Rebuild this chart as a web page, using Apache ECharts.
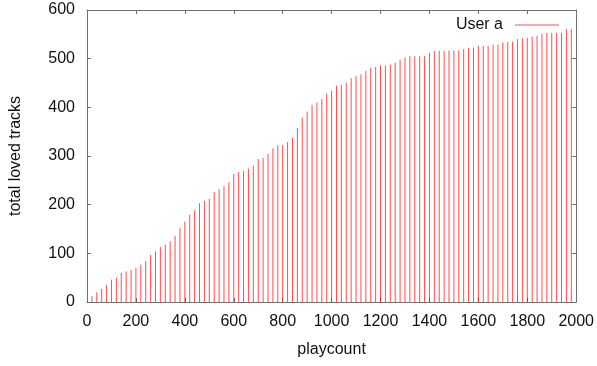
<!DOCTYPE html>
<html>
<head>
<meta charset="utf-8">
<script src="https://cdn.jsdelivr.net/npm/echarts@6/dist/echarts.min.js"></script>
<style>
  html, body { margin: 0; padding: 0; background: #fff; }
  #chart { width: 597px; height: 366px; }
</style>
</head>
<body>
<div id="chart"></div>
<script>
// Playcount at which each snapshot was taken
const playcount = [
  20, 40, 60, 80, 100, 120, 140, 160, 180, 200,
  220, 240, 260, 280, 300, 320, 340, 360, 380, 400,
  420, 440, 460, 480, 500, 520, 540, 560, 580, 600,
  620, 640, 660, 680, 700, 720, 740, 760, 780, 800,
  820, 840, 860, 880, 900, 920, 940, 960, 980, 1000,
  1020, 1040, 1060, 1080, 1100, 1120, 1140, 1160, 1180, 1200,
  1220, 1240, 1260, 1280, 1300, 1320, 1340, 1360, 1380, 1400,
  1420, 1440, 1460, 1480, 1500, 1520, 1540, 1560, 1580, 1600,
  1620, 1640, 1660, 1680, 1700, 1720, 1740, 1760, 1780, 1800,
  1820, 1840, 1860, 1880, 1900, 1920, 1940, 1960, 1980
];

// Total loved tracks for "User a" at each playcount
const lovedUserA = [
  12, 20, 27, 35, 46, 50, 60, 63, 66, 70,
  77, 84, 97, 104, 113, 118, 125, 136, 152, 165,
  179, 189, 203, 208, 212, 226, 232, 238, 246, 263,
  267, 269, 274, 280, 294, 296, 304, 316, 322, 322,
  329, 337, 357, 379, 391, 405, 410, 417, 428, 434,
  444, 446, 451, 460, 464, 468, 475, 481, 483, 486,
  486, 488, 492, 498, 502, 505, 505, 505, 505, 512,
  516, 516, 516, 517, 517, 517, 520, 522, 523, 526,
  526, 526, 529, 529, 533, 534, 535, 540, 542, 543,
  545, 547, 551, 553, 553, 553, 553, 561, 561
];

const seriesName = 'User a';
const xTicks = { min: 0, max: 2000, interval: 200 };
const yTicks = { min: 0, max: 600, interval: 100 };

const impulseColor = 'rgba(255,0,0,0.7)';
const frameColor = '#707070';
const labelFont = { fontFamily: 'Liberation Sans, Arial, sans-serif', fontSize: 16, color: '#111' };

const chart = echarts.init(document.getElementById('chart'), null, { renderer: 'canvas' });

const data = playcount.map((p, i) => [p, lovedUserA[i]]);

// Plain integer tick text (no thousands separator)
const plain = v => String(v);

function frameAxis(extra) {
  return Object.assign({
    type: 'value',
    axisLine: { show: true, onZero: false, lineStyle: { color: frameColor, width: 1 } },
    axisTick: { show: true, inside: true, length: 4, lineStyle: { color: frameColor } },
    splitLine: { show: false },
    minorTick: { show: false }
  }, extra);
}

chart.setOption({
  animation: false,
  backgroundColor: '#fff',
  grid: { left: 87, top: 10, width: 492, height: 292, containLabel: false },
  legend: {
    show: true,
    right: 33,
    top: 12,
    align: 'right',
    icon: 'rect',
    itemWidth: 44,
    itemHeight: 1,
    data: [{ name: seriesName, itemStyle: { color: impulseColor } }],
    textStyle: Object.assign({}, labelFont, { padding: [0, 7, 0, 0] })
  },
  xAxis: [
    frameAxis(Object.assign({
      position: 'bottom',
      name: 'playcount',
      nameLocation: 'middle',
      nameGap: 48,
      nameTextStyle: Object.assign({}, labelFont, { verticalAlign: 'middle' }),
      axisLabel: Object.assign({ show: true, margin: 12, formatter: plain }, labelFont)
    }, xTicks)),
    frameAxis(Object.assign({
      position: 'top',
      axisLabel: { show: false }
    }, xTicks))
  ],
  yAxis: [
    frameAxis(Object.assign({
      position: 'left',
      name: 'total loved tracks',
      nameLocation: 'middle',
      nameGap: 71,
      nameTextStyle: Object.assign({}, labelFont, { verticalAlign: 'middle' }),
      axisLabel: Object.assign({ show: true, margin: 12, formatter: plain }, labelFont)
    }, yTicks)),
    frameAxis(Object.assign({
      position: 'right',
      axisLabel: { show: false }
    }, yTicks))
  ],
  series: [{
    name: seriesName,
    type: 'custom',
    xAxisIndex: 0,
    yAxisIndex: 0,
    itemStyle: { color: impulseColor },
    encode: { x: 0, y: 1 },
    data: data,
    renderItem: function (params, api) {
      const x = api.value(0);
      const y = api.value(1);
      const base = api.coord([x, 0]);
      const top = api.coord([x, y]);
      return {
        type: 'line',
        shape: { x1: base[0], y1: base[1], x2: top[0], y2: top[1] },
        style: { stroke: impulseColor, lineWidth: 1 }
      };
    }
  }]
});
</script>
</body>
</html>
